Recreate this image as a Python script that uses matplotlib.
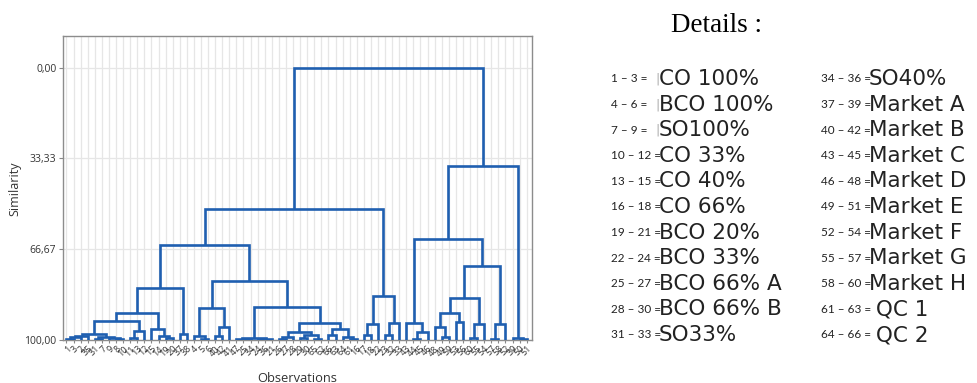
import matplotlib
matplotlib.use("Agg")
import matplotlib.pyplot as plt

# ---------------- data ----------------
# Agglomeration steps: integers are observation numbers, "mN" is the cluster made at step N
merge_left = [1, "m1", "m2", 31, 8, 9, "m4", "m3", 11, "m9", "m8", 19, 14, 15, "m11", 37, "m15",
              5, 4, 40, "m20", "m19", 25, 47, 24, "m25", "m24", 26, "m28", 29, 65, "m30", "m29",
              66, 61, 64, "m34", "m33", "m27", "m22", "m17", 17, "m42", 23, "m44", "m43", "m41",
              44, "m48", 43, 49, 48, 53, "m52", 60, "m55", "m54", 57, "m58", "m57", "m50", 50, 39,
              "m61", "m47"]
merge_right = [3, 2, 35, 7, 10, "m5", "m6", "m7", 13, 12, "m10", 20, "m12", "m13", "m14", 38, "m16",
               6, "m18", 42, 41, "m21", 34, "m23", 36, 21, "m26", 27, 28, 30, 62, "m31", "m32",
               63, 16, "m35", "m36", "m37", "m38", "m39", "m40", 18, 22, 32, 33, "m45", "m46",
               45, 46, "m49", 59, "m51", 56, "m53", 55, 54, "m56", 58, 52, "m59", "m60", 51, "m62",
               "m63", "m64"]
merge_similarity = [99.8, 99.0, 98.5, 99.6, 99.8, 99.3, 98.8, 97.8, 99.2, 96.7, 93.0, 99.3, 98.5,
                    96.0, 90.2, 97.8, 80.8, 99.6, 98.5, 98.5, 95.1, 88.3, 99.8, 99.6, 99.8, 99.6,
                    99.4, 99.5, 98.8, 99.4, 99.7, 98.3, 96.9, 98.2, 99.7, 98.9, 96.1, 93.9, 87.8,
                    78.2, 65.3, 98.0, 94.3, 98.2, 93.9, 83.7, 51.9, 99.5, 97.1, 93.9, 99.0, 95.1,
                    93.3, 90.2, 99.2, 94.1, 84.7, 99.5, 94.1, 73.0, 63.0, 99.8, 99.3, 36.3, 0.0]

y_ticks = [0.0, 33.33, 66.67, 100.0]
y_tick_labels = ["0,00", "33,33", "66,67", "100,00"]

detail_ranges_left = ["1 – 3 =", "4 – 6 =", "7 – 9 =", "10 – 12 =", "13 – 15 =", "16 – 18 =",
                      "19 – 21 =", "22 – 24 =", "25 – 27 =", "28 – 30 =", "31 – 33 ="]
detail_names_left = ["CO 100%", "BCO 100%", "SO100%", "CO 33%", "CO 40%", "CO 66%",
                     "BCO 20%", "BCO 33%", "BCO 66% A", "BCO 66% B", "SO33%"]
detail_ranges_right = ["34 – 36 =", "37 – 39 =", "40 – 42 =", "43 – 45 =", "46 – 48 =", "49 – 51 =",
                       "52 – 54 =", "55 – 57 =", "58 – 60 =", "61 – 63 =", "64 – 66 ="]
detail_names_right = ["SO40%", "Market A", "Market B", "Market C", "Market D", "Market E",
                      "Market F", "Market G", "Market H", " QC 1", " QC 2"]

# ---------------- figure ----------------
W, H = 978, 383
fig = plt.figure(figsize=(W / 100, H / 100), dpi=100)
ax = fig.add_axes([63.3 / W, 1 - 340 / H, (532 - 63.3) / W, (340 - 36) / H])

LINE = "#1f5fb0"

def ref(n):
    return f"m{n}"

children = {}
height = {}
for i, (a, b, s) in enumerate(zip(merge_left, merge_right, merge_similarity), start=1):
    children[ref(i)] = (a, b)
    height[ref(i)] = s

root = ref(len(merge_similarity))

order = []
def walk(node):
    if isinstance(node, str):
        a, b = children[node]
        walk(a)
        walk(b)
    else:
        order.append(node)
walk(root)

pos = {}
for i, obs in enumerate(order, start=1):
    pos[obs] = (i, 100.0)

def place(node):
    if node in pos:
        return pos[node]
    a, b = children[node]
    xa, ya = place(a)
    xb, yb = place(b)
    s = height[node]
    ax.plot([xa, xa, xb, xb], [ya, s, s, yb], color=LINE, lw=1.9,
            solid_joinstyle="miter", solid_capstyle="butt", zorder=3)
    pos[node] = ((xa + xb) / 2, s)
    return pos[node]

place(root)

n = len(order)
ax.set_xlim(0.55, n + 0.75)
ax.set_ylim(100, -11.56)
ax.set_xticks(range(1, n + 1))
ax.set_xticklabels([str(o) for o in order], rotation=45, ha="right",
                   rotation_mode="anchor", fontsize=6.5, family="Open Sans", color="#333333")
ax.set_yticks(y_ticks)
ax.set_yticklabels(y_tick_labels, fontsize=7.5, family="Open Sans", color="#333333")
ax.tick_params(axis="both", length=3, width=0.8, color="#888888", pad=2)
ax.tick_params(axis="x", length=2, pad=1)
ax.grid(True, color="#e6e6e6", lw=0.9, zorder=0)
ax.set_axisbelow(True)
for sp in ax.spines.values():
    sp.set_color("#8c8c8c")
    sp.set_linewidth(1.0)

fig.text(15 / W, 1 - 189 / H, "Similarity", rotation=90, ha="center", va="center",
         fontsize=9, family="Open Sans", color="#333333")
fig.text(297 / W, 1 - 378 / H, "Observations", ha="center", va="center",
         fontsize=9.3, family="Open Sans", color="#333333")

# ---------------- details panel ----------------
fig.text(717 / W, 1 - 25 / H, "Details :", ha="center", va="center",
         fontsize=19.5, family="Liberation Serif", color="#000000")

row_y0, row_dy = 79, 25.6
for k in range(len(detail_ranges_left)):
    y = 1 - (row_y0 + k * row_dy) / H
    fig.text(611 / W, y, detail_ranges_left[k], ha="left", va="center",
             fontsize=8.5, family="Lato", color="#222222")
    if k < 3:
        fig.text(655 / W, y, "|", ha="left", va="center", fontsize=9,
                 family="DejaVu Sans", color="#aaaaaa")
    fig.text(659 / W, y, detail_names_left[k], ha="left", va="center",
             fontsize=15.5, family="DejaVu Sans", color="#222222")
for k in range(len(detail_ranges_right)):
    y = 1 - (row_y0 + k * row_dy) / H
    fig.text(821 / W, y, detail_ranges_right[k], ha="left", va="center",
             fontsize=8.5, family="Lato", color="#222222")
    fig.text(869 / W, y, detail_names_right[k], ha="left", va="center",
             fontsize=15.5, family="DejaVu Sans", color="#222222")

fig.savefig("out.png", dpi=100)
